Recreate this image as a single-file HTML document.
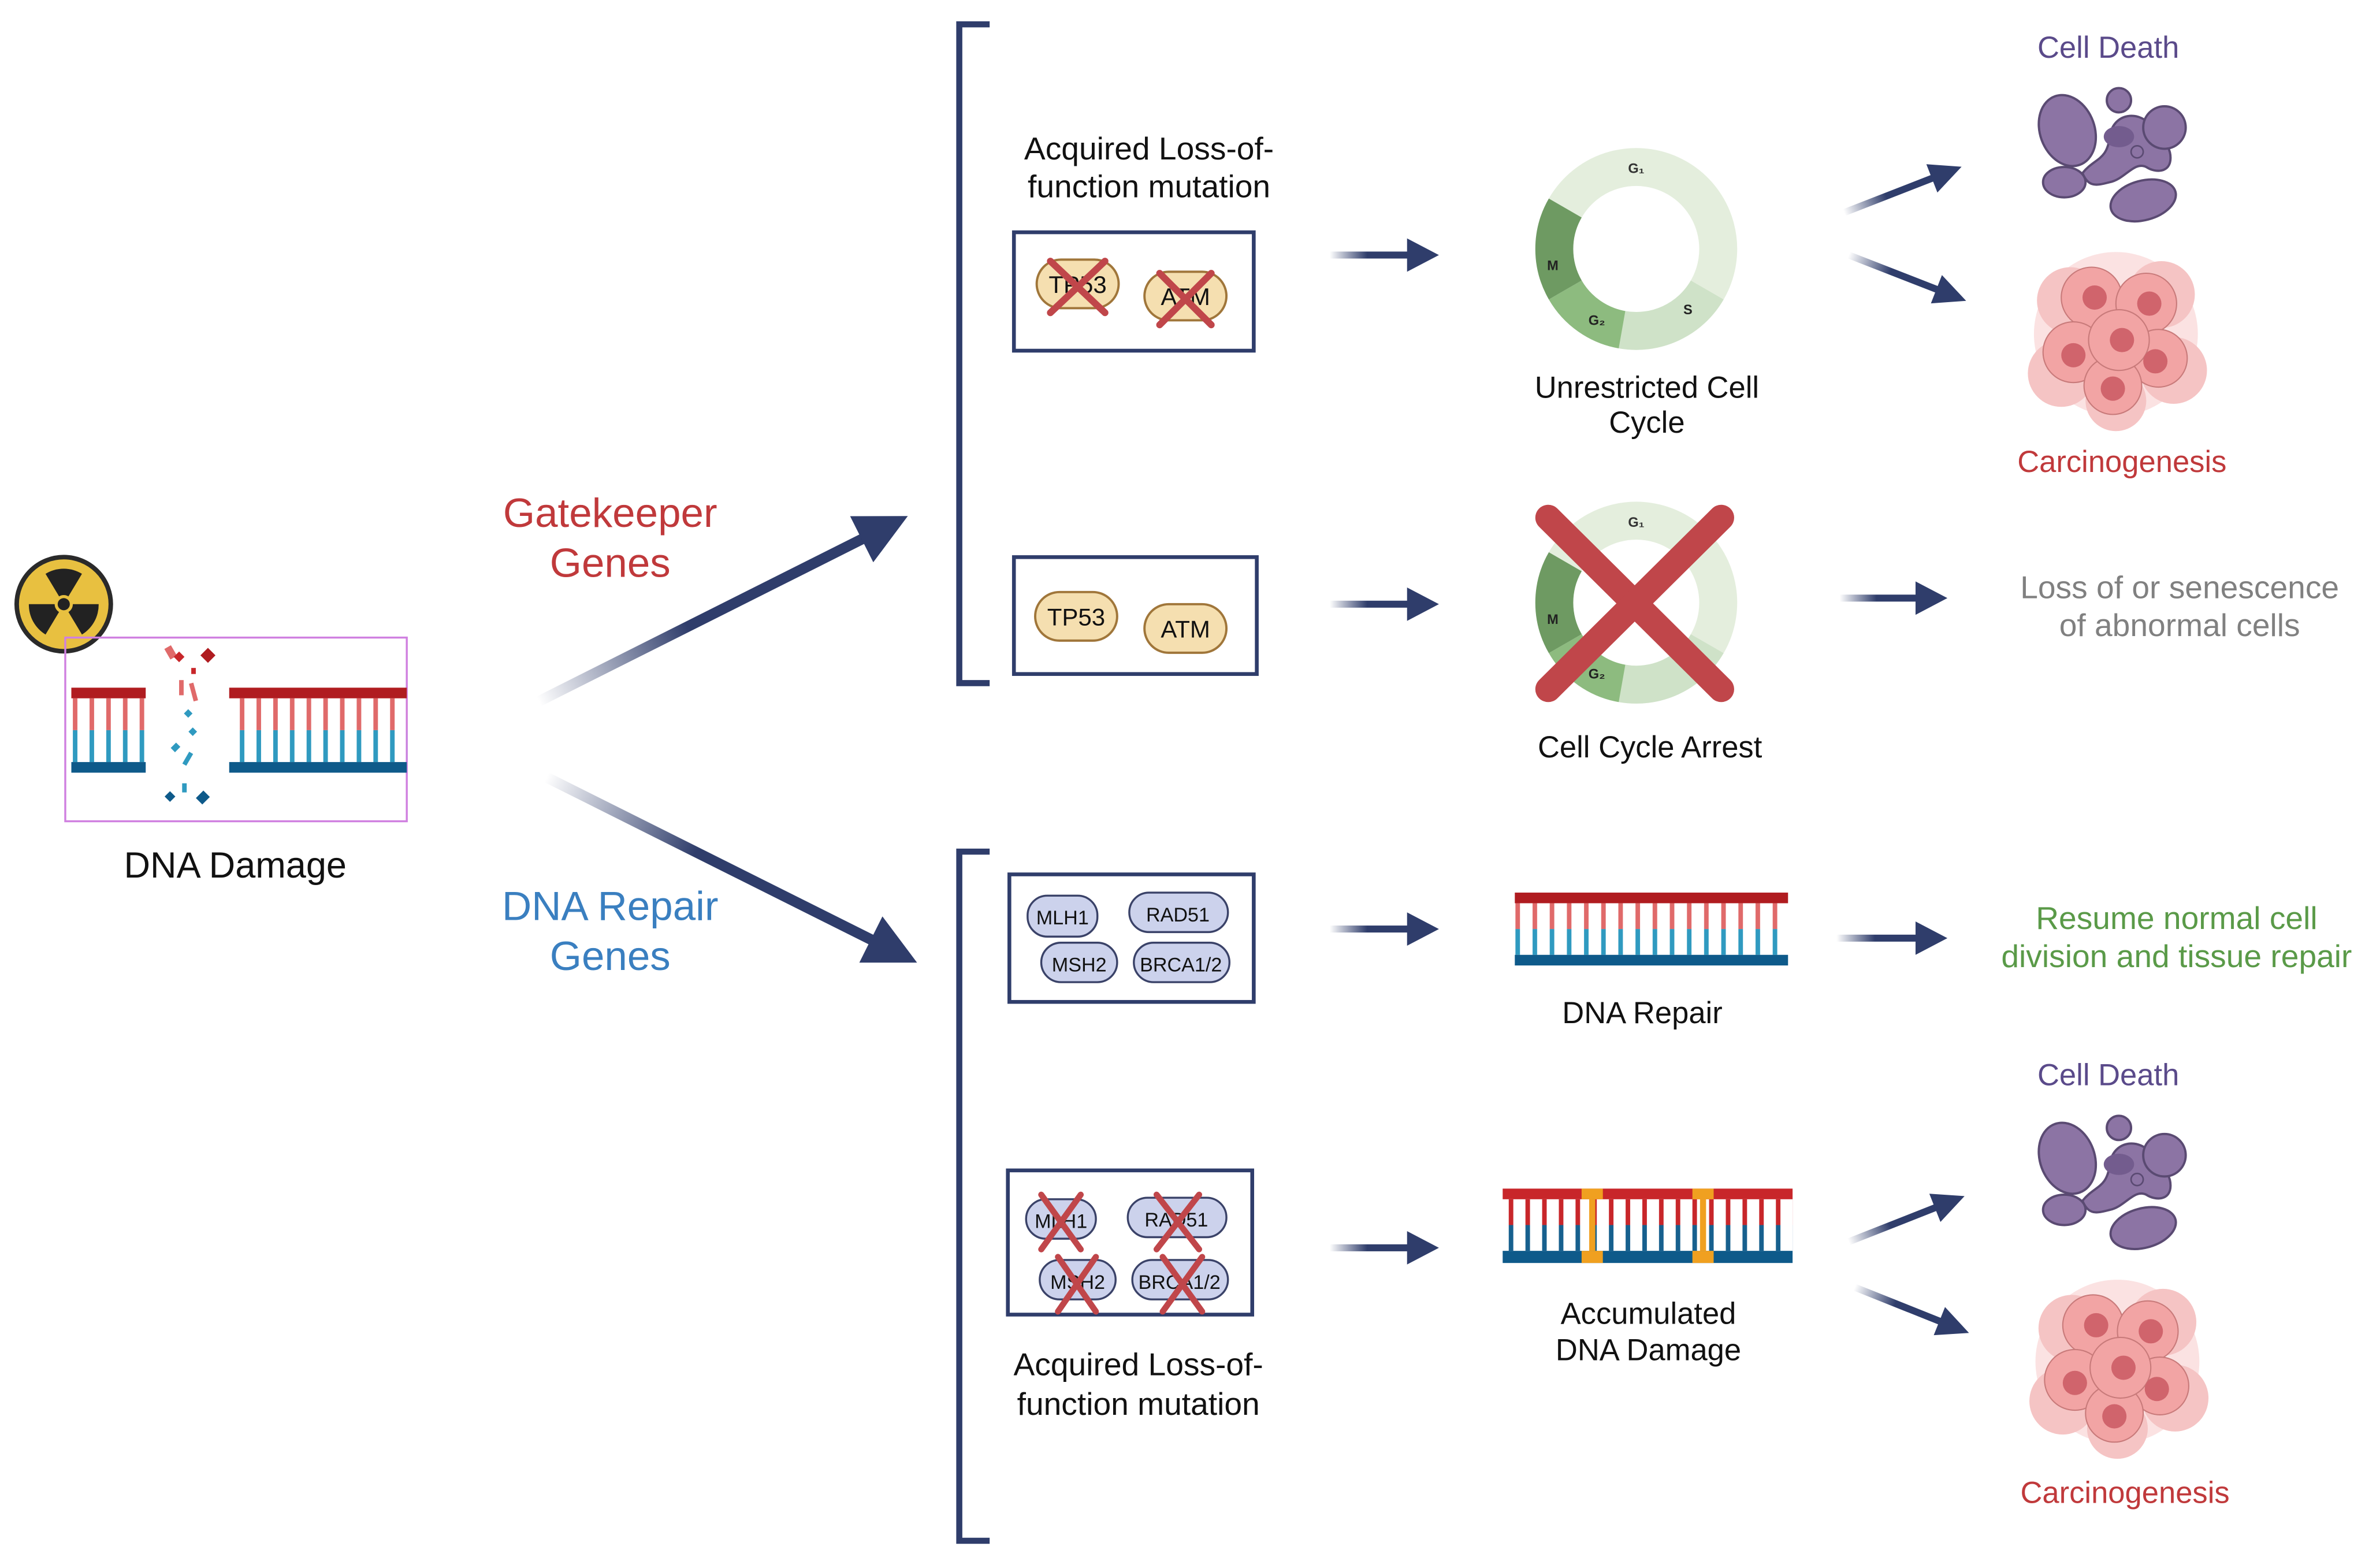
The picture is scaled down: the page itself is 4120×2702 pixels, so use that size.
<!DOCTYPE html>
<html><head><meta charset="utf-8"><style>html,body{margin:0;padding:0;background:#fff}svg{display:block}text{font-family:"Liberation Sans",sans-serif}</style></head>
<body>
<svg width="4120" height="2702" viewBox="0 0 1568 1028.3" xmlns="http://www.w3.org/2000/svg">
<defs>
<linearGradient id="ag" x1="0" y1="0" x2="1" y2="0"><stop offset="0" stop-color="#2f3d6b" stop-opacity="0"/><stop offset="0.45" stop-color="#2f3d6b"/><stop offset="1" stop-color="#2f3d6b"/></linearGradient>
<pattern id="rr" width="11" height="2000" patternUnits="userSpaceOnUse"><rect x="4" y="0" width="3" height="2000" fill="#e06a6a"/></pattern>
<pattern id="rb" width="11" height="2000" patternUnits="userSpaceOnUse"><rect x="4" y="0" width="3" height="2000" fill="#2f9ac0"/></pattern>
<pattern id="rr2" width="11.3" height="2000" patternUnits="userSpaceOnUse"><rect x="4" y="0" width="3" height="2000" fill="#e06a6a"/></pattern>
<pattern id="rb2" width="11.3" height="2000" patternUnits="userSpaceOnUse"><rect x="4" y="0" width="3" height="2000" fill="#2f9ac0"/></pattern>
<pattern id="rr3" width="11" height="2000" patternUnits="userSpaceOnUse"><rect x="4" y="0" width="3" height="2000" fill="#c8262a"/></pattern>
<pattern id="rb3" width="11" height="2000" patternUnits="userSpaceOnUse"><rect x="4" y="0" width="3" height="2000" fill="#17608e"/></pattern>
<g id="death">
<ellipse cx="-28" cy="-10" rx="18" ry="24" fill="#8c74a4" stroke="#5a4a72" stroke-width="1.5" transform="rotate(-20 -28 -10)"/>
<path d="M-18,18 C-10,8 -2,10 0,-6 C2,-22 20,-24 28,-12 C32,-4 40,-2 40,8 C40,18 30,18 24,14 C16,10 10,22 0,24 C-8,26 -14,28 -18,18Z" fill="#8c74a4" stroke="#5a4a72" stroke-width="1.5"/>
<ellipse cx="-30" cy="24" rx="14" ry="10" fill="#8c74a4" stroke="#5a4a72" stroke-width="1.5"/>
<ellipse cx="22" cy="36" rx="22" ry="13" fill="#8c74a4" stroke="#5a4a72" stroke-width="1.5" transform="rotate(-15 22 36)"/>
<ellipse cx="36" cy="-12" rx="14" ry="14" fill="#8c74a4" stroke="#5a4a72" stroke-width="1.5"/>
<circle cx="6" cy="-30" r="8" fill="#8c74a4" stroke="#5a4a72" stroke-width="1.5"/>
<circle cx="18" cy="4" r="4" fill="#8c74a4" stroke="#5a4a72" stroke-width="1"/>
<ellipse cx="6" cy="-6" rx="10" ry="7" fill="#735c8e"/>
</g>
<g id="cancer">
<circle cx="0" cy="0" r="54" fill="#fbe2e2"/>
<circle cx="-30" cy="-22" r="22" fill="#f5c4c4"/><circle cx="30" cy="-26" r="22" fill="#f5c4c4"/><circle cx="38" cy="24" r="22" fill="#f5c4c4"/><circle cx="-36" cy="26" r="22" fill="#f5c4c4"/><circle cx="0" cy="44" r="20" fill="#f5c4c4"/>
<circle cx="-16" cy="-24" r="20" fill="#f2a4a4" stroke="#c87a7a" stroke-width="0.8"/>
<circle cx="20" cy="-20" r="20" fill="#f2a4a4" stroke="#c87a7a" stroke-width="0.8"/>
<circle cx="-28" cy="12" r="20" fill="#f2a4a4" stroke="#c87a7a" stroke-width="0.8"/>
<circle cx="28" cy="16" r="19" fill="#f2a4a4" stroke="#c87a7a" stroke-width="0.8"/>
<circle cx="-2" cy="34" r="19" fill="#f2a4a4" stroke="#c87a7a" stroke-width="0.8"/>
<circle cx="2" cy="4" r="20" fill="#f2a4a4" stroke="#c87a7a" stroke-width="0.8"/>
<circle cx="-14" cy="-24" r="8" fill="#d0646c"/><circle cx="22" cy="-20" r="8" fill="#d0646c"/><circle cx="-28" cy="14" r="8" fill="#d0646c"/><circle cx="26" cy="18" r="8" fill="#d0646c"/><circle cx="-2" cy="36" r="8" fill="#d0646c"/><circle cx="4" cy="4" r="8" fill="#d0646c"/>
</g>
<g id="cycle">
<circle r="54" fill="none" stroke="#e4eedd" stroke-width="25" stroke-dasharray="169.6 400" transform="rotate(210)"/>
<circle r="54" fill="none" stroke="#cfe2c8" stroke-width="25" stroke-dasharray="66 400" transform="rotate(30)"/>
<circle r="54" fill="none" stroke="#8dbb7f" stroke-width="25" stroke-dasharray="47.1 400" transform="rotate(100)"/>
<circle r="54" fill="none" stroke="#6e9a62" stroke-width="25" stroke-dasharray="56.5 400" transform="rotate(150)"/>
<text x="0" y="-50" font-size="9" font-weight="bold" fill="#333" text-anchor="middle">G₁</text>
<text x="-55" y="14" font-size="9" font-weight="bold" fill="#222" text-anchor="middle">M</text>
<text x="-26" y="50" font-size="9" font-weight="bold" fill="#222" text-anchor="middle">G₂</text>
<text x="34" y="43" font-size="9" font-weight="bold" fill="#222" text-anchor="middle">S</text>
</g>
</defs>

<!-- radiation -->
<circle cx="42" cy="398" r="31" fill="#e8c040" stroke="#2a2a2a" stroke-width="3"/>
<g fill="#222">
<path d="M42,398 L30,378 A23,23 0 0 1 54,378 Z"/>
<path d="M42,398 L65,398 A23,23 0 0 1 54,418 Z"/>
<path d="M42,398 L30,418 A23,23 0 0 1 19,398 Z"/>
<circle cx="42" cy="398" r="6" fill="#e8c040"/><circle cx="42" cy="398" r="4"/>
</g>
<!-- DNA damage box -->
<rect x="43" y="420" width="225" height="121" fill="none" stroke="#d080e0" stroke-width="1.3"/>
<rect x="47" y="460" width="49" height="21" fill="url(#rr)"/><rect x="47" y="481" width="49" height="21" fill="url(#rb)"/>
<rect x="151" y="460" width="117" height="21" fill="url(#rr)"/><rect x="151" y="481" width="117" height="21" fill="url(#rb)"/>
<rect x="47" y="453" width="49" height="7" fill="#b01c20"/><rect x="47" y="502" width="49" height="7" fill="#0e5a8a"/>
<rect x="151" y="453" width="117" height="7" fill="#b01c20"/><rect x="151" y="502" width="117" height="7" fill="#0e5a8a"/>
<g>
<rect x="110" y="426" width="5" height="8" fill="#e06a6a" transform="rotate(-30 112 430)"/>
<rect x="116" y="430" width="5" height="5" fill="#c8262a" transform="rotate(45 118 432)"/>
<rect x="134" y="428" width="7" height="7" fill="#b01c20" transform="rotate(45 137 431)"/>
<rect x="126" y="440" width="3" height="4" fill="#c8262a"/>
<rect x="118" y="448" width="3" height="10" fill="#e06a6a"/>
<rect x="126" y="450" width="3" height="12" fill="#e06a6a" transform="rotate(-15 127 456)"/>
<rect x="122" y="468" width="4" height="4" fill="#2f9ac0" transform="rotate(45 124 470)"/>
<rect x="125" y="480" width="4" height="4" fill="#2f9ac0" transform="rotate(45 127 482)"/>
<rect x="114" y="490" width="4" height="5" fill="#2f9ac0" transform="rotate(45 116 492)"/>
<rect x="122" y="495" width="3" height="9" fill="#2f9ac0" transform="rotate(30 123 500)"/>
<rect x="110" y="522" width="5" height="5" fill="#0e5a8a" transform="rotate(45 112 524)"/>
<rect x="120" y="516" width="3" height="6" fill="#2f9ac0"/>
<rect x="131" y="522" width="6" height="7" fill="#0e5a8a" transform="rotate(45 134 525)"/>
</g>
<text x="155" y="578" font-size="24" fill="#111" text-anchor="middle">DNA Damage</text>

<text x="402" y="347" font-size="27" fill="#c0393b" text-anchor="middle">Gatekeeper</text>
<text x="402" y="380" font-size="27" fill="#c0393b" text-anchor="middle">Genes</text>
<text x="402" y="606" font-size="27" fill="#3a7fc0" text-anchor="middle">DNA Repair</text>
<text x="402" y="639" font-size="27" fill="#3a7fc0" text-anchor="middle">Genes</text>

<!-- big arrows -->
<g transform="translate(355,462) rotate(-26.66)"><rect x="0" y="-3.5" width="244" height="7" fill="url(#ag)"/><polygon points="238,-17 272,0 238,17" fill="#2f3d6b"/></g>
<g transform="translate(360,512) rotate(26.57)"><rect x="0" y="-3.5" width="245" height="7" fill="url(#ag)"/><polygon points="239,-17 273,0 239,17" fill="#2f3d6b"/></g>

<!-- brackets -->
<path d="M652,16 H632 V450 H652" fill="none" stroke="#2f3d6b" stroke-width="4"/>
<path d="M652,561 H632 V1015 H652" fill="none" stroke="#2f3d6b" stroke-width="4"/>

<text x="757" y="105" font-size="21" fill="#111" text-anchor="middle">Acquired Loss-of-</text>
<text x="757" y="130" font-size="21" fill="#111" text-anchor="middle">function mutation</text>

<!-- box1 -->
<rect x="668" y="153" width="158" height="78" fill="none" stroke="#2f3d6b" stroke-width="2.5"/>
<rect x="683" y="171" width="54" height="32" rx="16" fill="#f5dfb0" stroke="#a0763a" stroke-width="1.5"/>
<text x="710" y="193" font-size="16" fill="#111" text-anchor="middle">TP53</text>
<rect x="754" y="179" width="54" height="32" rx="16" fill="#f5dfb0" stroke="#a0763a" stroke-width="1.5"/>
<text x="781" y="201" font-size="16" fill="#111" text-anchor="middle">ATM</text>
<g stroke="#c0464a" stroke-width="4.5" stroke-linecap="round"><line x1="692" y1="172" x2="728" y2="206"/><line x1="728" y1="172" x2="692" y2="206"/><line x1="764" y1="180" x2="798" y2="214"/><line x1="798" y1="180" x2="764" y2="214"/></g>

<!-- box2 -->
<rect x="668" y="367" width="160" height="77" fill="none" stroke="#2f3d6b" stroke-width="2.5"/>
<rect x="682" y="390" width="54" height="32" rx="16" fill="#f5dfb0" stroke="#a0763a" stroke-width="1.5"/>
<text x="709" y="412" font-size="16" fill="#111" text-anchor="middle">TP53</text>
<rect x="754" y="398" width="54" height="32" rx="16" fill="#f5dfb0" stroke="#a0763a" stroke-width="1.5"/>
<text x="781" y="420" font-size="16" fill="#111" text-anchor="middle">ATM</text>

<!-- box3 -->
<rect x="665" y="576" width="161" height="84" fill="none" stroke="#2f3d6b" stroke-width="2.5"/>
<rect x="677" y="590" width="46" height="27" rx="13" fill="#ccd2ec" stroke="#3a4268" stroke-width="1.3"/>
<text x="700" y="609" font-size="13" fill="#111" text-anchor="middle">MLH1</text>
<rect x="744" y="588" width="65" height="26" rx="13" fill="#ccd2ec" stroke="#3a4268" stroke-width="1.3"/>
<text x="776" y="607" font-size="13" fill="#111" text-anchor="middle">RAD51</text>
<rect x="686" y="621" width="50" height="26" rx="13" fill="#ccd2ec" stroke="#3a4268" stroke-width="1.3"/>
<text x="711" y="640" font-size="13" fill="#111" text-anchor="middle">MSH2</text>
<rect x="747" y="621" width="63" height="26" rx="13" fill="#ccd2ec" stroke="#3a4268" stroke-width="1.3"/>
<text x="778" y="640" font-size="13" fill="#111" text-anchor="middle">BRCA1/2</text>

<!-- box4 -->
<rect x="664" y="771" width="161" height="95" fill="none" stroke="#2f3d6b" stroke-width="2.5"/>
<rect x="676" y="790" width="46" height="26" rx="13" fill="#ccd2ec" stroke="#3a4268" stroke-width="1.3"/>
<text x="699" y="809" font-size="13" fill="#111" text-anchor="middle">MLH1</text>
<rect x="743" y="789" width="65" height="26" rx="13" fill="#ccd2ec" stroke="#3a4268" stroke-width="1.3"/>
<text x="775" y="808" font-size="13" fill="#111" text-anchor="middle">RAD51</text>
<rect x="685" y="830" width="50" height="26" rx="13" fill="#ccd2ec" stroke="#3a4268" stroke-width="1.3"/>
<text x="710" y="849" font-size="13" fill="#111" text-anchor="middle">MSH2</text>
<rect x="746" y="830" width="63" height="26" rx="13" fill="#ccd2ec" stroke="#3a4268" stroke-width="1.3"/>
<text x="777" y="849" font-size="13" fill="#111" text-anchor="middle">BRCA1/2</text>
<g stroke="#c0464a" stroke-width="4" stroke-linecap="round">
<line x1="686" y1="787" x2="712" y2="823"/><line x1="712" y1="787" x2="686" y2="823"/>
<line x1="762" y1="787" x2="790" y2="823"/><line x1="790" y1="787" x2="762" y2="823"/>
<line x1="697" y1="828" x2="722" y2="864"/><line x1="722" y1="828" x2="697" y2="864"/>
<line x1="766" y1="828" x2="792" y2="864"/><line x1="792" y1="828" x2="766" y2="864"/>
</g>
<text x="750" y="906" font-size="21" fill="#111" text-anchor="middle">Acquired Loss-of-</text>
<text x="750" y="932" font-size="21" fill="#111" text-anchor="middle">function mutation</text>

<!-- small arrows -->
<g transform="translate(876,168)"><rect x="0" y="-2.3" width="55" height="4.6" fill="url(#ag)"/><polygon points="51,-11 72,0 51,11" fill="#2f3d6b"/></g>
<g transform="translate(876,398)"><rect x="0" y="-2.3" width="55" height="4.6" fill="url(#ag)"/><polygon points="51,-11 72,0 51,11" fill="#2f3d6b"/></g>
<g transform="translate(876,612)"><rect x="0" y="-2.3" width="55" height="4.6" fill="url(#ag)"/><polygon points="51,-11 72,0 51,11" fill="#2f3d6b"/></g>
<g transform="translate(876,822)"><rect x="0" y="-2.3" width="55" height="4.6" fill="url(#ag)"/><polygon points="51,-11 72,0 51,11" fill="#2f3d6b"/></g>
<g transform="translate(1212,394)"><rect x="0" y="-2.3" width="54" height="4.6" fill="url(#ag)"/><polygon points="50,-11 71,0 50,11" fill="#2f3d6b"/></g>
<g transform="translate(1210,618)"><rect x="0" y="-2.3" width="56" height="4.6" fill="url(#ag)"/><polygon points="52,-11 73,0 52,11" fill="#2f3d6b"/></g>
<g transform="translate(1215,140) rotate(-21.3)"><rect x="0" y="-2.3" width="66" height="4.6" fill="url(#ag)"/><polygon points="62,-10 83,0 62,10" fill="#2f3d6b"/></g>
<g transform="translate(1218,168) rotate(21.3)"><rect x="0" y="-2.3" width="66" height="4.6" fill="url(#ag)"/><polygon points="62,-10 83,0 62,10" fill="#2f3d6b"/></g>
<g transform="translate(1218,818) rotate(-21.5)"><rect x="0" y="-2.3" width="65" height="4.6" fill="url(#ag)"/><polygon points="61,-10 82,0 61,10" fill="#2f3d6b"/></g>
<g transform="translate(1222,848) rotate(21.8)"><rect x="0" y="-2.3" width="64" height="4.6" fill="url(#ag)"/><polygon points="60,-10 81,0 60,10" fill="#2f3d6b"/></g>

<!-- cycles -->
<use href="#cycle" transform="translate(1078,164)"/>
<text x="1085" y="262" font-size="20" fill="#111" text-anchor="middle">Unrestricted Cell</text>
<text x="1085" y="285" font-size="20" fill="#111" text-anchor="middle">Cycle</text>
<use href="#cycle" transform="translate(1078,397)"/>
<g stroke="#c0464a" stroke-width="17" stroke-linecap="round"><line x1="1020" y1="341" x2="1134" y2="454"/><line x1="1134" y1="341" x2="1020" y2="454"/></g>
<text x="1087" y="499" font-size="20" fill="#111" text-anchor="middle">Cell Cycle Arrest</text>

<!-- DNA repair -->
<rect x="998" y="595" width="180" height="17" fill="url(#rr2)"/><rect x="998" y="612" width="180" height="17" fill="url(#rb2)"/>
<rect x="998" y="588" width="180" height="7" fill="#b01c20"/><rect x="998" y="629" width="180" height="7" fill="#0e5a8a"/>
<text x="1082" y="674" font-size="20" fill="#111" text-anchor="middle">DNA Repair</text>

<!-- accumulated damage -->
<rect x="990" y="790" width="191" height="17" fill="url(#rr3)"/><rect x="990" y="807" width="191" height="17" fill="url(#rb3)"/>
<rect x="990" y="783" width="191" height="7" fill="#c8262a"/><rect x="990" y="824" width="191" height="8" fill="#0e5a8a"/>
<rect x="1042" y="783" width="14" height="7" fill="#f0a020"/><rect x="1047" y="790" width="4" height="34" fill="#f0a020"/><rect x="1042" y="824" width="14" height="8" fill="#f0a020"/>
<rect x="1115" y="783" width="14" height="7" fill="#f0a020"/><rect x="1120" y="790" width="4" height="34" fill="#f0a020"/><rect x="1115" y="824" width="14" height="8" fill="#f0a020"/>
<text x="1086" y="872" font-size="20" fill="#111" text-anchor="middle">Accumulated</text>
<text x="1086" y="896" font-size="20" fill="#111" text-anchor="middle">DNA Damage</text>

<!-- outcomes -->
<text x="1389" y="38" font-size="20" fill="#5a4a8a" text-anchor="middle">Cell Death</text>
<use href="#death" transform="translate(1390,96)"/>
<use href="#cancer" transform="translate(1394,220)"/>
<text x="1398" y="311" font-size="20" fill="#c0393b" text-anchor="middle">Carcinogenesis</text>
<text x="1436" y="394" font-size="21" fill="#808080" text-anchor="middle">Loss of or senescence</text>
<text x="1436" y="419" font-size="21" fill="#808080" text-anchor="middle">of abnormal cells</text>
<text x="1434" y="612" font-size="21" fill="#5a9a48" text-anchor="middle">Resume normal cell</text>
<text x="1434" y="637" font-size="21" fill="#5a9a48" text-anchor="middle">division and tissue repair</text>
<text x="1389" y="715" font-size="20" fill="#5a4a8a" text-anchor="middle">Cell Death</text>
<use href="#death" transform="translate(1390,773)"/>
<use href="#cancer" transform="translate(1395,897)"/>
<text x="1400" y="990" font-size="20" fill="#c0393b" text-anchor="middle">Carcinogenesis</text>
</svg>
</body></html>
